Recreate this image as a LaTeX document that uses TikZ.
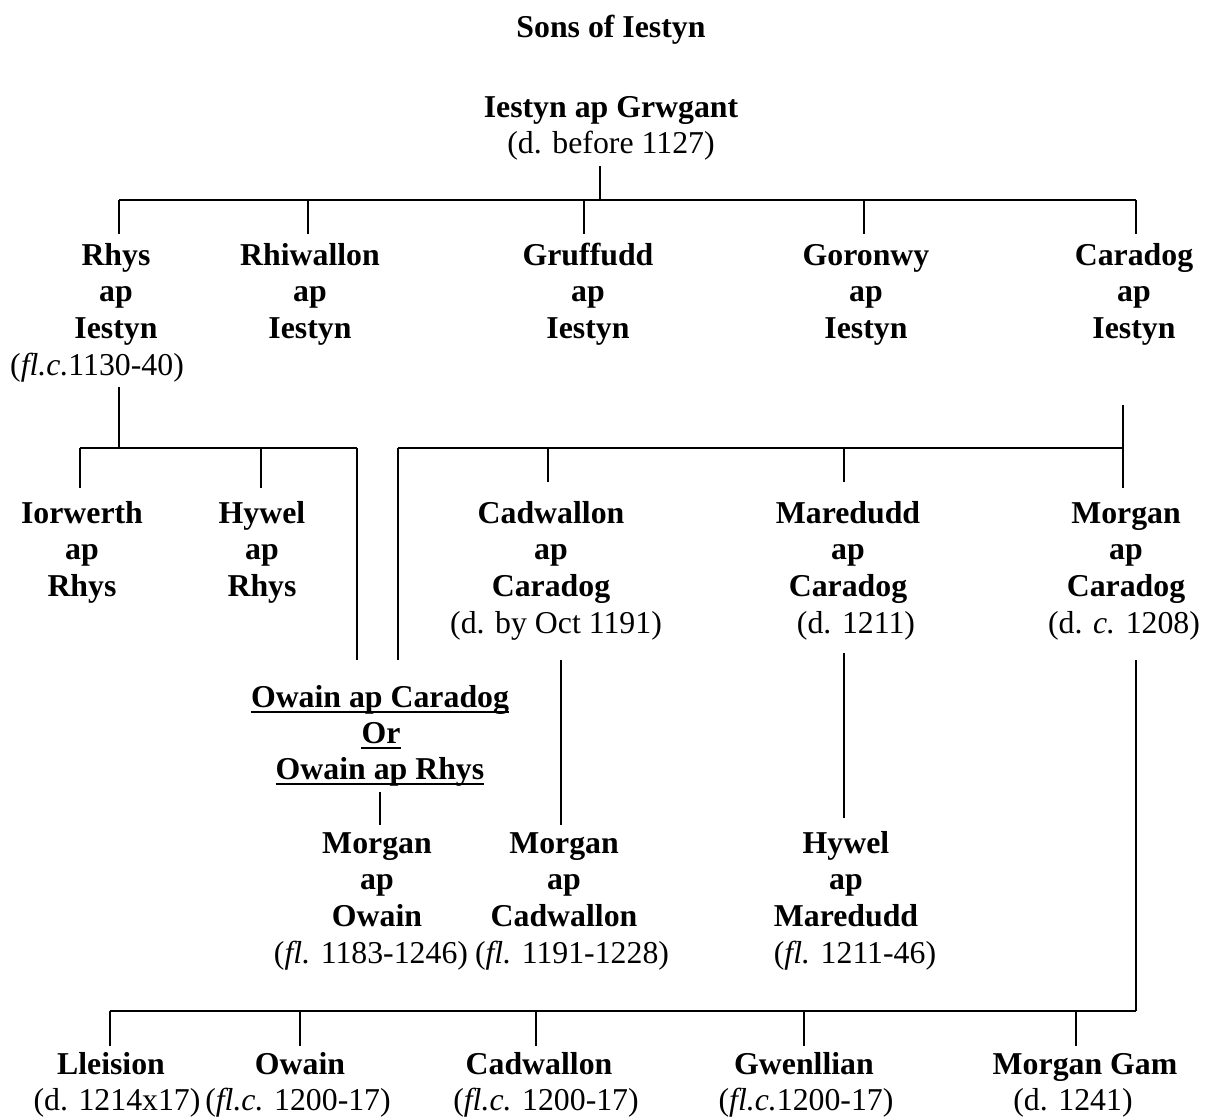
\documentclass[tikz,border=0pt]{standalone}
\usepackage{fontspec}
\setmainfont{Liberation Serif}
\begin{document}
\begin{tikzpicture}[x=1pt,y=-1pt,
  nm/.style={font=\fontsize{31.8}{36.5}\selectfont\bfseries, align=center, anchor=base, inner sep=0pt},
  dt/.style={font=\fontsize{31.8}{36.5}\selectfont, anchor=base, inner sep=0pt},
  bus/.style={line width=2.2pt},
  drop/.style={line width=1.4pt},
  uline/.style={line width=2.4pt}]
\useasboundingbox (0,0) rectangle (1206,1118);

% ---- texts (multi-line nodes: base = baseline of last line) ----
\node[nm] (title) at (611,38) {Sons of Iestyn};
\node[nm] (iestyn) at (611,118) {Iestyn ap Grwgant};
\node[dt] (iestynD) at (611,154) {(d. before 1127)};

\node[nm] (rhys) at (116,338) {Rhys\\ap\\Iestyn};
\node[dt] (rhysD) at (97,375) {(\textit{fl.c.}1130-40)};
\node[nm] (rhiwallon) at (310,338) {Rhiwallon\\ap\\Iestyn};
\node[nm] (gruffudd) at (588,338) {Gruffudd\\ap\\Iestyn};
\node[nm] (goronwy) at (866,338) {Goronwy\\ap\\Iestyn};
\node[nm] (caradog) at (1134,338) {Caradog\\ap\\Iestyn};

\node[nm] (iorwerth) at (82,596) {Iorwerth\\ap\\Rhys};
\node[nm] (hywel) at (262,596) {Hywel\\ap\\Rhys};
\node[nm] (cadwallon) at (551,596) {Cadwallon\\ap\\Caradog};
\node[dt] (cadwallonD) at (556,633) {(d. by Oct 1191)};
\node[nm] (maredudd) at (848,596) {Maredudd\\ap\\Caradog};
\node[dt] (maredudd) at (856,633) {(d. 1211)};
\node[nm] (morganC) at (1126,596) {Morgan\\ap\\Caradog};
\node[dt] (morganCD) at (1124,633) {(d. \textit{c.} 1208)};

\node[nm] (ow1) at (380,707) {Owain ap Caradog};
\node[nm] (ow2) at (381,743) {Or};
\node[nm] (ow3) at (380,779) {Owain ap Rhys};
\draw[uline] ([yshift=-5pt]ow1.base west) -- ([yshift=-5pt]ow1.base east);
\draw[uline] ([yshift=-5pt]ow2.base west) -- ([yshift=-5pt]ow2.base east);
\draw[uline] ([yshift=-5pt]ow3.base west) -- ([yshift=-5pt]ow3.base east);

\node[nm] (morganO) at (377,926) {Morgan\\ap\\Owain};
\node[dt] (morganOD) at (371,963) {(\textit{fl.} 1183-1246)};
\node[nm] (morganCad) at (564,926) {Morgan\\ap\\Cadwallon};
\node[dt] (morganCadD) at (572,963) {(\textit{fl.} 1191-1228)};
\node[nm] (hywelM) at (846,926) {Hywel\\ap\\Maredudd};
\node[dt] (hywelMD) at (855,963) {(\textit{fl.} 1211-46)};

\node[nm] (lleision) at (111,1074) {Lleision};
\node[dt] (lleisionD) at (117,1110) {(d. 1214x17)};
\node[nm] (owain) at (300,1074) {Owain};
\node[dt] (owainD) at (298,1110) {(\textit{fl.c.} 1200-17)};
\node[nm] (cadw) at (539,1074) {Cadwallon};
\node[dt] (cadwD) at (546,1110) {(\textit{fl.c.} 1200-17)};
\node[nm] (gwen) at (804,1074) {Gwenllian};
\node[dt] (gwenD) at (806,1110) {(\textit{fl.c.}1200-17)};
\node[nm] (mgam) at (1085,1074) {Morgan Gam};
\node[dt] (mgamD) at (1073,1110) {(d. 1241)};

% ---- connectors ----
% generation 1
\coordinate (iestynB) at (600,166);
\coordinate (bus1L) at (119,200);
\coordinate (bus1R) at (1136,200);
\coordinate (rhysT) at (119,234);
\coordinate (rhiwT) at (308,234);
\coordinate (grufT) at (584,234);
\coordinate (goroT) at (864,234);
\coordinate (caraT) at (1136,234);
\draw[drop] (iestynB) -- (iestynB |- bus1L);
\draw[bus] (bus1L) -- (bus1R);
\foreach \c in {rhysT,rhiwT,grufT,goroT,caraT} \draw[drop] (\c |- bus1L) -- (\c);

% sons of Rhys
\coordinate (rhysB) at (119,387);
\coordinate (bus2L) at (80,448);
\coordinate (bus2R) at (357,448);
\coordinate (iorT) at (80,488);
\coordinate (hywT) at (261,488);
\coordinate (owL) at (357,660);
\draw[drop] (rhysB) -- (rhysB |- bus2L);
\draw[bus] (bus2L) -- (bus2R);
\foreach \c in {iorT,hywT,owL} \draw[drop] (\c |- bus2L) -- (\c);

% sons of Caradog
\coordinate (caraB) at (1123,405);
\coordinate (caraE) at (1123,488);
\coordinate (bus3L) at (398,448);
\coordinate (bus3R) at (1123,448);
\coordinate (cadT) at (548,482);
\coordinate (marT) at (844,482);
\coordinate (owR) at (398,660);
\draw[drop] (caraB) -- (caraE);
\draw[bus] (bus3L) -- (bus3R);
\foreach \c in {cadT,marT,owR} \draw[drop] (\c |- bus3L) -- (\c);

% grandsons
\coordinate (cadB) at (561,660);
\coordinate (mcadT) at (561,825);
\draw[drop] (cadB) -- (mcadT);
\coordinate (marB) at (844,653);
\coordinate (hywMT) at (844,818);
\draw[drop] (marB) -- (hywMT);
\coordinate (owB) at (380,792);
\coordinate (moT) at (380,825);
\draw[drop] (owB) -- (moT);

% children of Morgan ap Caradog
\coordinate (morB) at (1136,660);
\coordinate (bus4R) at (1136,1011);
\coordinate (bus4L) at (110,1011);
\coordinate (lleT) at (110,1046);
\coordinate (owaT) at (300,1046);
\coordinate (cadwT) at (536,1046);
\coordinate (gwenT) at (804,1046);
\coordinate (mgamT) at (1076,1046);
\draw[drop] (morB) -- (bus4R);
\draw[bus] (bus4L) -- (bus4R);
\foreach \c in {lleT,owaT,cadwT,gwenT,mgamT} \draw[drop] (\c |- bus4L) -- (\c);
\end{tikzpicture}
\end{document}
